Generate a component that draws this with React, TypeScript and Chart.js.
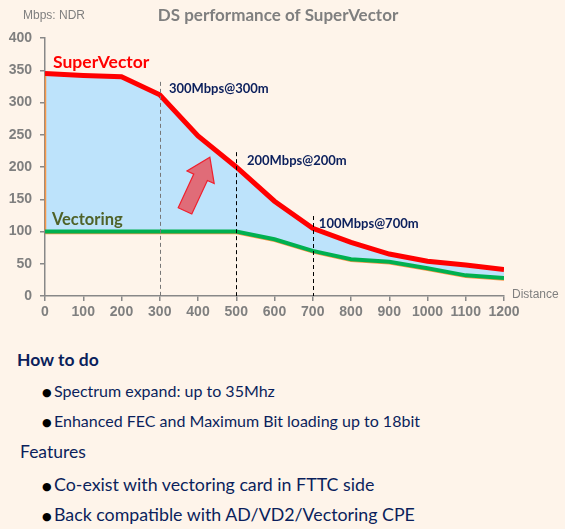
import React, { useEffect, useRef } from "react";
import { Chart, registerables } from "chart.js";

Chart.register(...registerables);
Chart.defaults.font.family = "Liberation Sans";
Chart.defaults.font.size = 14;
Chart.defaults.font.weight = "bold" as any;

const distances = [0, 100, 200, 300, 400, 500, 600, 700, 800, 900, 1000, 1100, 1200];
const superVector = [345, 342, 340, 312, 248, 200, 147, 105, 83, 65, 54, 48, 41];
const vectoring = [100, 100, 100, 100, 100, 100, 88, 70, 57, 53, 43, 32, 28];

const markerLines = [
  { x: 300, top: 332, color: "#777777" },
  { x: 500, top: 223, color: "#000000" },
  { x: 700, top: 124, color: "#000000" },
];
const markerLabels = [
  { text: "300Mbps@300m", x: 324, y: 321 },
  { text: "200Mbps@200m", x: 528, y: 209 },
  { text: "100Mbps@700m", x: 716, y: 112 },
];
const arrowFrom = { x: 366, y: 132 };
const arrowTo = { x: 431, y: 215 };

const BG = "#FEF4EA";
const NAVY = "#0B1F5C";

const decorPlugin = {
  id: "decor",
  beforeDatasetsDraw(chart: any) {
    const { ctx, scales } = chart;
    const xs = scales.x;
    const ys = scales.y;
    // thin orange edge along the lower boundary of the filled band
    ctx.save();
    ctx.strokeStyle = "#F79646";
    ctx.lineWidth = 1.5;
    ctx.beginPath();
    ctx.moveTo(xs.getPixelForValue(distances[0]) + 0.5, ys.getPixelForValue(superVector[0]));
    ctx.lineTo(xs.getPixelForValue(distances[0]) + 0.5, ys.getPixelForValue(vectoring[0]));
    ctx.stroke();
    ctx.beginPath();
    distances.forEach((d, i) => {
      const px = xs.getPixelForValue(d);
      const py = ys.getPixelForValue(vectoring[i]) + 2;
      if (i === 0) ctx.moveTo(px, py);
      else ctx.lineTo(px, py);
    });
    ctx.stroke();
    ctx.restore();
  },
  afterDatasetsDraw(chart: any) {
    const { ctx, scales, chartArea } = chart;
    const xs = scales.x;
    const ys = scales.y;
    ctx.save();
    ctx.lineWidth = 1;
    ctx.setLineDash([4, 3]);
    markerLines.forEach((m) => {
      const px = Math.round(xs.getPixelForValue(m.x)) + 0.5;
      ctx.strokeStyle = m.color;
      ctx.beginPath();
      ctx.moveTo(px, ys.getPixelForValue(m.top));
      ctx.lineTo(px, ys.getPixelForValue(0));
      ctx.stroke();
    });
    ctx.setLineDash([]);
    // marker labels
    ctx.font = "bold 13px Lato";
    ctx.fillStyle = NAVY;
    ctx.textBaseline = "middle";
    ctx.textAlign = "left";
    markerLabels.forEach((l) => {
      ctx.fillText(l.text, xs.getPixelForValue(l.x), ys.getPixelForValue(l.y));
    });
    // series labels
    ctx.font = "bold 17.5px Lato";
    ctx.fillStyle = "#FF0000";
    ctx.fillText("SuperVector", xs.getPixelForValue(21), ys.getPixelForValue(363));
    ctx.font = "bold 16.5px Lato";
    ctx.fillStyle = "#4F6228";
    ctx.fillText("Vectoring", xs.getPixelForValue(18), ys.getPixelForValue(119));

    // arrow
    const x1 = xs.getPixelForValue(arrowFrom.x);
    const y1 = ys.getPixelForValue(arrowFrom.y);
    const x2 = xs.getPixelForValue(arrowTo.x);
    const y2 = ys.getPixelForValue(arrowTo.y);
    const len = Math.hypot(x2 - x1, y2 - y1);
    const ang = Math.atan2(y2 - y1, x2 - x1);
    const sw = 7.5;
    const hw = 15;
    const hl = 22;
    ctx.translate(x1, y1);
    ctx.rotate(ang);
    ctx.beginPath();
    ctx.moveTo(0, -sw);
    ctx.lineTo(len - hl, -sw);
    ctx.lineTo(len - hl, -hw);
    ctx.lineTo(len, 0);
    ctx.lineTo(len - hl, hw);
    ctx.lineTo(len - hl, sw);
    ctx.lineTo(0, sw);
    ctx.closePath();
    ctx.fillStyle = "#E06C78";
    ctx.fill();
    ctx.strokeStyle = "#F0202E";
    ctx.lineWidth = 1.2;
    ctx.stroke();
    ctx.restore();

    // header texts
    ctx.save();
    ctx.textBaseline = "middle";
    ctx.font = "12px 'Liberation Sans'";
    ctx.fillStyle = "#7F7F7F";
    ctx.textAlign = "left";
    ctx.fillText("Mbps: NDR", 23, 16);
    ctx.fillText("Distance", chartArea.right + 8, chartArea.bottom - 1);
    ctx.font = "bold 17px Lato";
    ctx.textAlign = "center";
    ctx.fillText("DS performance of SuperVector", 278, 16);
    ctx.restore();
  },
};

const tickFont = { family: "Liberation Sans", size: 14, weight: "bold" };

function ChartView() {
  const ref = useRef<HTMLCanvasElement | null>(null);
  useEffect(() => {
    if (!ref.current) return;
    const chart = new Chart(ref.current, {
      type: "line",
      data: {
        datasets: [
          {
            label: "SuperVector",
            data: distances.map((d, i) => ({ x: d, y: superVector[i] })),
            borderColor: "#FF0000",
            borderWidth: 5,
            backgroundColor: "#BDE3FB",
            fill: "+1",
            pointRadius: 0,
            tension: 0,
            order: 1,
          },
          {
            label: "Vectoring",
            data: distances.map((d, i) => ({ x: d, y: vectoring[i] })),
            borderColor: "#00B050",
            borderWidth: 4,
            fill: false,
            pointRadius: 0,
            tension: 0,
            order: 0,
          },
        ],
      },
      options: {
        animation: false,
        responsive: false,
        maintainAspectRatio: false,
        layout: { padding: { left: 0, right: 61, top: 38, bottom: 9 } },
        plugins: {
          legend: { display: false },
          tooltip: { enabled: false },
          title: { display: false },
          filler: { drawTime: "beforeDatasetsDraw" },
        },
        scales: {
          x: {
            type: "linear",
            min: 0,
            max: 1200,
            afterFit: (s: any) => {
              s.height = 35;
            },
            border: { color: "#888888", width: 1.5 },
            grid: { drawOnChartArea: false, tickLength: 5, color: "#888888", lineWidth: 1.5 },
            ticks: {
              stepSize: 100,
              padding: 3,
              maxRotation: 0,
              minRotation: 0,
              autoSkip: false,
              color: "#7F7F7F",
              font: tickFont,
              callback: (v: any) => String(v),
            },
          },
          y: {
            min: 0,
            max: 400,
            afterFit: (s: any) => {
              s.width = 45;
            },
            border: { color: "#888888", width: 1.5 },
            grid: { drawOnChartArea: false, tickLength: 5, color: "#888888", lineWidth: 1.5 },
            ticks: {
              stepSize: 50,
              padding: 8,
              color: "#7F7F7F",
              font: tickFont,
              callback: (v: any) => String(v),
            },
          },
        },
      },
      plugins: [decorPlugin],
    } as any);
    return () => chart.destroy();
  }, []);
  return (
    <canvas
      ref={ref}
      width={565}
      height={340}
      style={{ position: "absolute", left: 0, top: 0, width: 565, height: 340 }}
    />
  );
}

const bulletStyle: React.CSSProperties = {
  position: "absolute",
  left: 42,
  whiteSpace: "nowrap",
  color: NAVY,
};
const dot: React.CSSProperties = {
  display: "inline-block",
  color: "#000",
  fontSize: 11,
  width: 12,
  verticalAlign: "1px",
  fontFamily: "DejaVu Sans",
};

export default function App() {
  useEffect(() => {
    document.body.style.background = BG;
  }, []);
  return (
    <div
      style={{
        position: "absolute",
        left: 0,
        top: 0,
        width: 565,
        height: 529,
        background: BG,
        overflow: "hidden",
        fontFamily: "Lato, sans-serif",
      }}
    >
      <ChartView />
      <div style={{ position: "absolute", left: 17, top: 349, fontSize: 17.5, fontWeight: "bold", color: NAVY }}>
        How to do
      </div>
      <div style={{ ...bulletStyle, top: 381, fontSize: 16 }}>
        <span style={dot}>●</span>Spectrum expand: up to 35Mhz
      </div>
      <div style={{ ...bulletStyle, top: 411, fontSize: 16 }}>
        <span style={dot}>●</span>Enhanced FEC and Maximum Bit loading up to 18bit
      </div>
      <div style={{ position: "absolute", left: 20, top: 441, fontSize: 17.5, color: NAVY }}>Features</div>
      <div style={{ ...bulletStyle, top: 473, fontSize: 17.8 }}>
        <span style={dot}>●</span>Co-exist with vectoring card in FTTC side
      </div>
      <div style={{ ...bulletStyle, top: 503, fontSize: 17.8 }}>
        <span style={dot}>●</span>Back compatible with AD/VD2/Vectoring CPE
      </div>
    </div>
  );
}
